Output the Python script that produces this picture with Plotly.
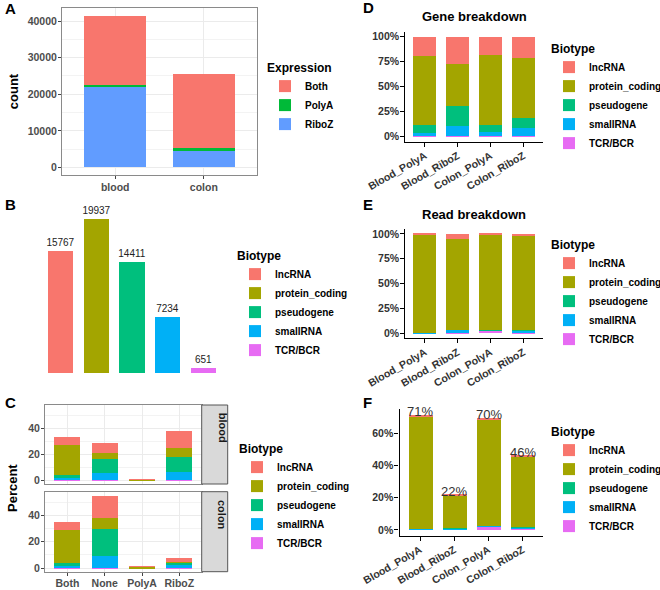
import plotly.graph_objects as go

W, H = 660, 590

# ---- data -------------------------------------------------------------
# A: genes detected per tissue, split by library where they are expressed
tissues = ["blood", "colon"]
expr_both = [19100, 20200]
expr_polya = [300, 800]
expr_riboz = [22100, 4400]

# B: gene counts per biotype
biotypes = ["lncRNA", "protein_coding", "pseudogene", "smallRNA", "TCR/BCR"]
gene_counts = [15767, 19937, 14411, 7234, 651]

# C: percent of genes per expression group, per tissue
expr_groups = ["Both", "None", "PolyA", "RiboZ"]
blood_lncrna = [6.0, 7.5, 0.1, 13.4]
blood_protein = [23.1, 4.9, 0.4, 6.8]
blood_pseudo = [2.5, 10.6, 0.0, 11.1]
blood_small = [1.0, 5.4, 0.0, 6.4]
blood_tcr = [0.5, 0.3, 0.0, 0.3]
colon_lncrna = [6.0, 17.3, 0.5, 2.5]
colon_protein = [24.6, 8.3, 1.0, 0.5]
colon_pseudo = [2.5, 20.2, 0.1, 1.8]
colon_small = [1.5, 9.1, 0.0, 2.5]
colon_tcr = [0.3, 0.4, 0.0, 0.3]

# D/E/F: libraries
libraries = ["Blood_PolyA", "Blood_RiboZ", "Colon_PolyA", "Colon_RiboZ"]
gene_lncrna = [0.190, 0.273, 0.183, 0.206]
gene_protein = [0.685, 0.420, 0.700, 0.600]
gene_pseudo = [0.080, 0.197, 0.067, 0.100]
gene_small = [0.030, 0.095, 0.035, 0.079]
gene_tcr = [0.015, 0.015, 0.015, 0.015]

read_lncrna = [0.010, 0.053, 0.008, 0.012]
read_protein = [0.983, 0.910, 0.960, 0.952]
read_pseudo = [0.001, 0.003, 0.002, 0.003]
read_small = [0.003, 0.027, 0.005, 0.025]
read_tcr = [0.003, 0.007, 0.025, 0.008]

frac_lncrna = [0.009, 0.008, 0.009, 0.007]
frac_protein = [0.698, 0.201, 0.661, 0.436]
frac_pseudo = [0.001, 0.001, 0.001, 0.001]
frac_small = [0.003, 0.006, 0.004, 0.009]
frac_tcr = [0.003, 0.003, 0.021, 0.007]

# ---- styling ----------------------------------------------------------
bio_colors = {"lncRNA": "#F8766D", "protein_coding": "#A3A500", "pseudogene": "#00BF7D",
              "smallRNA": "#00B0F6", "TCR/BCR": "#E76BF3"}
expr_colors = {"Both": "#F8766D", "PolyA": "#00BA38", "RiboZ": "#619CFF"}


def dx(a, b):
    return [a / W, b / W]


def dy(top, bottom):
    return [1 - bottom / H, 1 - top / H]


def stack(d):
    # bottom to top, as ggplot stacks them
    return [("TCR/BCR", d[4]), ("smallRNA", d[3]), ("pseudogene", d[2]),
            ("protein_coding", d[1]), ("lncRNA", d[0])]


fig = go.Figure()

# A
for name, vals in [("RiboZ", expr_riboz), ("PolyA", expr_polya), ("Both", expr_both)]:
    fig.add_trace(go.Bar(x=tissues, y=vals, name=name, marker_color=expr_colors[name],
                         marker_line_width=0, width=0.7, xaxis="x", yaxis="y", legend="legend"))

# B
for b, n in zip(biotypes, gene_counts):
    fig.add_trace(go.Bar(x=[b], y=[n], name=b, text=[n], textposition="outside",
                         textfont=dict(size=10, color="#222", weight="normal"),
                         constraintext="none", cliponaxis=False, marker_color=bio_colors[b],
                         marker_line_width=0, width=0.7, xaxis="x2", yaxis="y2", legend="legend2"))

# C
blood_c = [blood_lncrna, blood_protein, blood_pseudo, blood_small, blood_tcr]
colon_c = [colon_lncrna, colon_protein, colon_pseudo, colon_small, colon_tcr]
for data, ax, show in [(blood_c, "3", True), (colon_c, "4", False)]:
    for name, vals in stack(data):
        fig.add_trace(go.Bar(x=expr_groups, y=vals, name=name, marker_color=bio_colors[name],
                             marker_line_width=0, width=0.7, xaxis="x" + ax, yaxis="y" + ax,
                             legend="legend3", legendgroup="c" + name, showlegend=show))
c_max = max(max(sum(v) for v in zip(*blood_c)), max(sum(v) for v in zip(*colon_c)))

# D, E, F
gene_d = [gene_lncrna, gene_protein, gene_pseudo, gene_small, gene_tcr]
read_d = [read_lncrna, read_protein, read_pseudo, read_small, read_tcr]
frac_d = [frac_lncrna, frac_protein, frac_pseudo, frac_small, frac_tcr]
for data, ax, lg in [(gene_d, "5", "legend4"), (read_d, "6", "legend5"), (frac_d, "7", "legend6")]:
    for name, vals in stack(data):
        fig.add_trace(go.Bar(x=libraries, y=vals, name=name, marker_color=bio_colors[name],
                             marker_line_width=0, width=0.7, xaxis="x" + ax, yaxis="y" + ax,
                             legend=lg))
frac_tot = [sum(v) for v in zip(*frac_d)]
f_max = max(frac_tot)

# ---- axes -------------------------------------------------------------
bw = dict(showline=True, mirror=True, linecolor="#8a8a8a", linewidth=1, showgrid=True,
          gridcolor="#EBEBEB", ticks="outside", ticklen=3, tickcolor="#444",
          tickfont=dict(size=10.5, color="#4D4D4D"), zeroline=False, automargin=False,
          ticklabelstandoff=-1)
classic = dict(showline=True, linecolor="black", linewidth=1.2, showgrid=False,
               ticks="outside", ticklen=4, tickcolor="black",
               tickfont=dict(size=10.5, color="#333"), zeroline=False, automargin=False,
               ticklabelstandoff=-1)

a_max = max(a + b + c for a, b, c in zip(expr_both, expr_polya, expr_riboz))
fig.update_layout(
    xaxis=dict(bw, domain=dx(62, 257), anchor="y", range=[-0.6, 1.6]),
    yaxis=dict(bw, domain=dy(8, 175), anchor="x", range=[-0.05 * a_max, 1.05 * a_max],
               dtick=10000, tickformat="d",
               minor=dict(dtick=5000, showgrid=True, gridcolor="#F3F3F3"),
               title=dict(text="count", font=dict(size=13, color="black"), standoff=6)),
    xaxis2=dict(domain=dx(39, 225), anchor="y2", visible=False, range=[-0.6, 4.6]),
    yaxis2=dict(domain=dy(210.6, 380.7), anchor="x2", visible=False,
                range=[-0.05 * max(gene_counts), 1.05 * max(gene_counts)]),
    xaxis3=dict(bw, domain=dx(45, 201.7), anchor="y3", range=[-0.6, 3.6], showticklabels=False,
                ticks=""),
    yaxis3=dict(bw, domain=dy(405, 484), anchor="x3", range=[-0.05 * c_max, 1.05 * c_max],
                dtick=20, minor=dict(dtick=10, showgrid=True, gridcolor="#F3F3F3")),
    xaxis4=dict(bw, domain=dx(45, 201.7), anchor="y4", range=[-0.6, 3.6]),
    yaxis4=dict(bw, domain=dy(491.7, 571.7), anchor="x4", range=[-0.05 * c_max, 1.05 * c_max],
                dtick=20, minor=dict(dtick=10, showgrid=True, gridcolor="#F3F3F3")),
    xaxis5=dict(classic, domain=dx(405.3, 543), anchor="y5", range=[-0.6, 3.6], tickangle=-30),
    yaxis5=dict(classic, domain=dy(31.7, 141.7), anchor="x5", range=[-0.05, 1.05],
                tickvals=[0, 0.25, 0.5, 0.75, 1], tickformat=".0%"),
    xaxis6=dict(classic, domain=dx(405.3, 543), anchor="y6", range=[-0.6, 3.6], tickangle=-30),
    yaxis6=dict(classic, domain=dy(229, 338.3), anchor="x6", range=[-0.05, 1.05],
                tickvals=[0, 0.25, 0.5, 0.75, 1], tickformat=".0%"),
    xaxis7=dict(classic, domain=dx(399.5, 543.3), anchor="y7", range=[-0.6, 3.6], tickangle=-30),
    yaxis7=dict(classic, domain=dy(409, 535.7), anchor="x7", range=[-0.05 * f_max, 1.05 * f_max],
                tickvals=[0, 0.2, 0.4, 0.6], tickformat=".0%"),
)

# ---- legends ----------------------------------------------------------
def leg(x, top, title, order="reversed"):
    return dict(x=x / W, y=1 - top / H, xanchor="left", yanchor="top",
                title=dict(text=title, font=dict(size=12, color="black")),
                font=dict(size=10, color="black"), traceorder=order,
                bgcolor="rgba(0,0,0,0)", borderwidth=0, itemclick=False)


fig.update_layout(
    legend=leg(265, 56, "Expression"),
    legend2=leg(235, 244, "Biotype", "normal"),
    legend3=leg(237, 437, "Biotype"),
    legend4=leg(549, 37, "Biotype"),
    legend5=leg(549, 233, "Biotype"),
    legend6=leg(549, 420, "Biotype"),
)

# ---- annotations ------------------------------------------------------
ann = []
for lab, x, y in [("A", 3, 8), ("B", 3, 205), ("C", 3, 402), ("D", 361, 7), ("E", 361, 205), ("F", 361, 402)]:
    ann.append(dict(text=lab, x=x / W, y=1 - y / H, xref="paper", yref="paper", showarrow=False,
                    xanchor="left", yanchor="middle", font=dict(size=15, color="black")))
for t, y in [("Gene breakdown", 17), ("Read breakdown", 215)]:
    ann.append(dict(text=t, x=474 / W, y=1 - y / H, xref="paper", yref="paper", showarrow=False,
                    xanchor="center", yanchor="middle", font=dict(size=13, color="black")))
ann.append(dict(text="Percent", x=13 / W, y=1 - 488 / H, xref="paper", yref="paper", showarrow=False,
                xanchor="center", yanchor="middle", textangle=-90, font=dict(size=13, color="black")))
for lib, tot in zip(libraries, frac_tot):
    ann.append(dict(text=f"{tot:.0%}", x=lib, y=tot, xref="x7", yref="y7", showarrow=False,
                    yanchor="middle", yshift=3, font=dict(size=13, color="#333", weight="normal")))

# facet strips for C
shapes = []
for lab, top, bottom in [("blood", 405, 484), ("colon", 491.7, 571.7)]:
    shapes.append(dict(type="rect", xref="paper", yref="paper", x0=201.7 / W, x1=227.7 / W,
                       y0=1 - bottom / H, y1=1 - top / H, fillcolor="#D9D9D9",
                       line=dict(color="#555", width=1)))
    ann.append(dict(text=lab, x=214.7 / W, y=1 - (top + bottom) / 2 / H, xref="paper", yref="paper",
                    showarrow=False, textangle=90, font=dict(size=11, color="#1a1a1a")))

fig.update_layout(
    template="none",
    width=W, height=H, autosize=False, barmode="stack", bargap=0,
    margin=dict(l=0, r=0, t=0, b=0, autoexpand=False),
    paper_bgcolor="white", plot_bgcolor="white",
    font=dict(family="Liberation Sans, Arial, sans-serif", weight="bold", color="black"),
    annotations=ann, shapes=shapes,
)

# the page body has an 8px default margin; drop it so the figure sits at 0,0
fig.write_html("out.html", config={"displayModeBar": False},
               post_script="document.body.style.margin='0';")
